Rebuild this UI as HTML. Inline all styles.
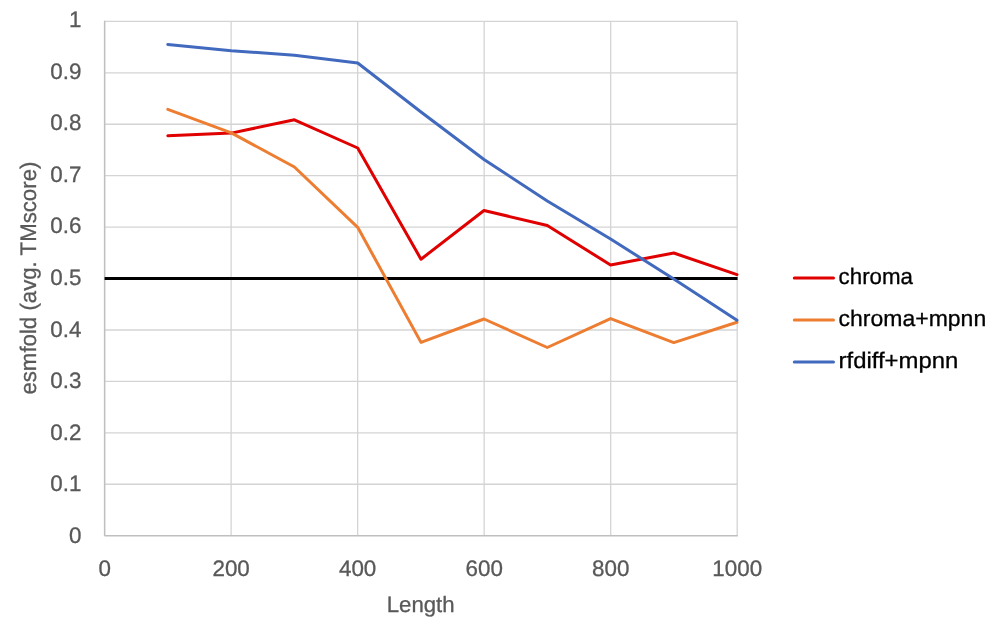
<!DOCTYPE html>
<html><head><meta charset="utf-8"><title>chart</title>
<style>
html,body{margin:0;padding:0;background:#fff;}
body{width:1000px;height:624px;overflow:hidden;}
svg{display:block;will-change:transform;}
text{font-family:"Liberation Sans",sans-serif;font-size:22.5px;fill:#595959;stroke:#595959;stroke-width:0.3px;text-rendering:geometricPrecision;}
text.k{fill:#000;stroke:#000;}
</style></head>
<body>
<svg width="1000" height="624" viewBox="0 0 1000 624">
<rect width="1000" height="624" fill="#fff"/>
<line x1="104.6" y1="484.27" x2="737.2" y2="484.27" stroke="#d4d4d4" stroke-width="1.3"/>
<line x1="104.6" y1="432.84" x2="737.2" y2="432.84" stroke="#d4d4d4" stroke-width="1.3"/>
<line x1="104.6" y1="381.41" x2="737.2" y2="381.41" stroke="#d4d4d4" stroke-width="1.3"/>
<line x1="104.6" y1="329.98" x2="737.2" y2="329.98" stroke="#d4d4d4" stroke-width="1.3"/>
<line x1="104.6" y1="278.55" x2="737.2" y2="278.55" stroke="#d4d4d4" stroke-width="1.3"/>
<line x1="104.6" y1="227.12" x2="737.2" y2="227.12" stroke="#d4d4d4" stroke-width="1.3"/>
<line x1="104.6" y1="175.69" x2="737.2" y2="175.69" stroke="#d4d4d4" stroke-width="1.3"/>
<line x1="104.6" y1="124.26" x2="737.2" y2="124.26" stroke="#d4d4d4" stroke-width="1.3"/>
<line x1="104.6" y1="72.83" x2="737.2" y2="72.83" stroke="#d4d4d4" stroke-width="1.3"/>
<line x1="104.6" y1="21.40" x2="737.2" y2="21.40" stroke="#d4d4d4" stroke-width="1.3"/>
<line x1="104.60" y1="21.4" x2="104.60" y2="535.7" stroke="#d4d4d4" stroke-width="1.3"/>
<line x1="231.12" y1="21.4" x2="231.12" y2="535.7" stroke="#d4d4d4" stroke-width="1.3"/>
<line x1="357.64" y1="21.4" x2="357.64" y2="535.7" stroke="#d4d4d4" stroke-width="1.3"/>
<line x1="484.16" y1="21.4" x2="484.16" y2="535.7" stroke="#d4d4d4" stroke-width="1.3"/>
<line x1="610.68" y1="21.4" x2="610.68" y2="535.7" stroke="#d4d4d4" stroke-width="1.3"/>
<line x1="737.20" y1="21.4" x2="737.20" y2="535.7" stroke="#d4d4d4" stroke-width="1.3"/>
<line x1="104.6" y1="535.7" x2="737.8" y2="535.7" stroke="#bfbfbf" stroke-width="1.6"/>
<line x1="104.6" y1="20.8" x2="104.6" y2="535.7" stroke="#bfbfbf" stroke-width="1.4"/>
<text transform="translate(81.4,542.70) scale(1.0,1)" text-anchor="end" style="font-size:22.4px">0</text>
<text transform="translate(81.4,491.15) scale(1.0,1)" text-anchor="end" style="font-size:22.4px">0.1</text>
<text transform="translate(81.4,439.60) scale(1.0,1)" text-anchor="end" style="font-size:22.4px">0.2</text>
<text transform="translate(81.4,388.05) scale(1.0,1)" text-anchor="end" style="font-size:22.4px">0.3</text>
<text transform="translate(81.4,336.50) scale(1.0,1)" text-anchor="end" style="font-size:22.4px">0.4</text>
<text transform="translate(81.4,284.95) scale(1.0,1)" text-anchor="end" style="font-size:22.4px">0.5</text>
<text transform="translate(81.4,233.40) scale(1.0,1)" text-anchor="end" style="font-size:22.4px">0.6</text>
<text transform="translate(81.4,181.85) scale(1.0,1)" text-anchor="end" style="font-size:22.4px">0.7</text>
<text transform="translate(81.4,130.30) scale(1.0,1)" text-anchor="end" style="font-size:22.4px">0.8</text>
<text transform="translate(81.4,78.75) scale(1.0,1)" text-anchor="end" style="font-size:22.4px">0.9</text>
<text transform="translate(81.4,27.20) scale(1.0,1)" text-anchor="end" style="font-size:22.4px">1</text>
<text transform="translate(104.60,575.8) scale(1.0,1)" text-anchor="middle" style="font-size:22.4px">0</text>
<text transform="translate(231.12,575.8) scale(1.0,1)" text-anchor="middle" style="font-size:22.4px">200</text>
<text transform="translate(357.64,575.8) scale(1.0,1)" text-anchor="middle" style="font-size:22.4px">400</text>
<text transform="translate(484.16,575.8) scale(1.0,1)" text-anchor="middle" style="font-size:22.4px">600</text>
<text transform="translate(610.68,575.8) scale(1.0,1)" text-anchor="middle" style="font-size:22.4px">800</text>
<text transform="translate(737.20,575.8) scale(1.0,1)" text-anchor="middle" style="font-size:22.4px">1000</text>
<text x="420.7" y="612" text-anchor="middle" style="font-size:22.2px">Length</text>
<text transform="translate(36.4,278.1) rotate(-90)" text-anchor="middle" textLength="233" lengthAdjust="spacingAndGlyphs">esmfold (avg. TMscore)</text>
<line x1="104.6" y1="278.5" x2="737.6" y2="278.5" stroke="#000" stroke-width="2.9"/>
<polyline points="167.8,135.8 231.3,133.1 294.4,119.8 357.7,148.0 421.0,259.2 484.0,210.5 547.3,225.5 610.6,265.0 673.8,253.0 737.0,274.6" fill="none" stroke="#e00000" stroke-width="3" stroke-linejoin="round" stroke-linecap="round"/>
<polyline points="167.8,109.4 231.3,132.9 294.4,167.0 357.7,227.3 421.0,342.4 484.0,319.0 547.3,347.5 610.6,318.6 673.8,342.6 737.0,322.2" fill="none" stroke="#ed7d31" stroke-width="3" stroke-linejoin="round" stroke-linecap="round"/>
<polyline points="167.8,44.5 231.3,50.7 294.4,55.2 357.7,63.0 421.0,112.0 484.0,159.5 547.3,201.0 610.6,239.0 673.8,279.0 737.0,320.3" fill="none" stroke="#4169be" stroke-width="3" stroke-linejoin="round" stroke-linecap="round"/>
<line x1="794.3" y1="278.0" x2="833.5" y2="278.0" stroke="#e00000" stroke-width="3" stroke-linecap="round"/>
<text class="k" x="838.6" y="283.8" textLength="74.4" lengthAdjust="spacingAndGlyphs">chroma</text>
<line x1="794.3" y1="320.1" x2="833.5" y2="320.1" stroke="#ed7d31" stroke-width="3" stroke-linecap="round"/>
<text class="k" x="838.6" y="325.9" textLength="147.6" lengthAdjust="spacingAndGlyphs">chroma+mpnn</text>
<line x1="794.3" y1="362.1" x2="833.5" y2="362.1" stroke="#4169be" stroke-width="3" stroke-linecap="round"/>
<text class="k" x="838.6" y="368.0" textLength="119.7" lengthAdjust="spacingAndGlyphs">rfdiff+mpnn</text>
</svg>
</body></html>
